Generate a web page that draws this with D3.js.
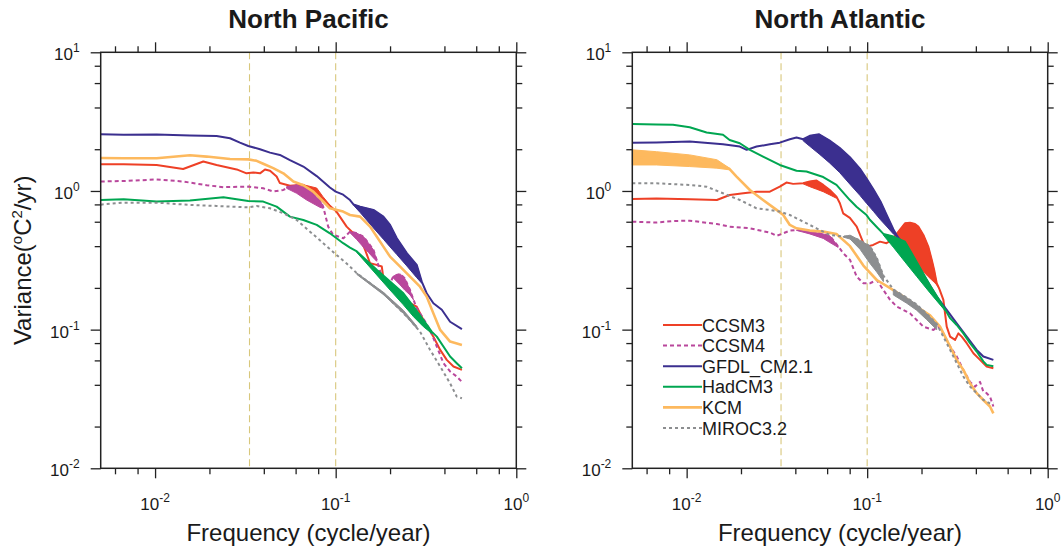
<!DOCTYPE html>
<html>
<head>
<meta charset="utf-8">
<script src="https://cdn.jsdelivr.net/npm/d3@7"></script>
<style>
body { margin: 0; background: #fff; }
text { font-family: "Liberation Sans", Arial, Helvetica, sans-serif; fill: #1a1a1a; }
</style>
</head>
<body>
<script>
// axis ticks
var freqTicks = [0.01, 0.1, 1];
var freqMinor = [0.006, 0.008, 0.02, 0.04, 0.06, 0.08, 0.2, 0.4, 0.6, 0.8];
var varTicks = [0.01, 0.1, 1, 10];
var varMinor = [0.02, 0.04, 0.06, 0.08, 0.2, 0.4, 0.6, 0.8, 2, 4, 6, 8];
var refFreqs = [1 / 30, 1 / 10];

var models = ["CCSM3", "CCSM4", "GFDL_CM2.1", "HadCM3", "KCM", "MIROC3.2"];

// North Pacific spectra [frequency, variance]
var npCCSM3 = [[0.005,1.56],[0.0067,1.56],[0.0102,1.54],[0.0143,1.44],[0.0185,1.63],[0.0219,1.54],[0.0283,1.43],[0.0321,1.34],[0.035,1.36],[0.0381,1.34],[0.0406,1.43],[0.0433,1.40],[0.0471,1.27],[0.0491,1.14],[0.0558,1.09],[0.066,1.11],[0.0721,1.02],[0.0853,0.86],[0.101,0.71],[0.115,0.553],[0.1254,0.496],[0.1365,0.456],[0.1455,0.376],[0.155,0.301],[0.1687,0.293],[0.180,0.285],[0.1837,0.235],[0.200,0.216],[0.218,0.193],[0.237,0.173],[0.258,0.155],[0.281,0.1466],[0.306,0.1174],[0.3475,0.089],[0.379,0.0714],[0.412,0.0605],[0.449,0.0542],[0.5,0.0513]];
var npCCSM4 = [[0.005,1.17],[0.0067,1.18],[0.0102,1.21],[0.0143,1.17],[0.0193,1.10],[0.0239,1.065],[0.0328,1.075],[0.0397,1.045],[0.0451,0.99],[0.0513,1.017],[0.0535,1.045],[0.0608,1.10],[0.069,1.045],[0.0818,0.861],[0.0853,0.771],[0.0871,0.69],[0.0909,0.553],[0.0969,0.482],[0.1104,0.456],[0.120,0.509],[0.131,0.496],[0.1425,0.469],[0.152,0.42],[0.1618,0.376],[0.1687,0.318],[0.180,0.241],[0.200,0.216],[0.209,0.244],[0.2274,0.252],[0.241,0.235],[0.258,0.193],[0.2697,0.164],[0.281,0.1426],[0.306,0.120],[0.3333,0.0995],[0.363,0.0755],[0.395,0.0573],[0.430,0.0499],[0.468,0.0459],[0.5,0.042]];
var npGFDL = [[0.005,2.56],[0.0067,2.54],[0.0102,2.55],[0.0156,2.51],[0.0219,2.49],[0.026,2.40],[0.0295,2.23],[0.0328,2.11],[0.0381,2.00],[0.0433,1.89],[0.0491,1.82],[0.0558,1.67],[0.0662,1.50],[0.0785,1.28],[0.0929,1.06],[0.1,0.99],[0.110,0.94],[0.120,0.86],[0.1254,0.80],[0.1365,0.771],[0.1618,0.73],[0.1837,0.653],[0.200,0.569],[0.218,0.456],[0.2476,0.356],[0.281,0.293],[0.2996,0.222],[0.319,0.183],[0.3475,0.155],[0.387,0.139],[0.430,0.114],[0.5,0.101]];
var npHadCM3 = [[0.005,0.861],[0.0067,0.871],[0.0102,0.838],[0.0156,0.852],[0.0239,0.90],[0.0328,0.848],[0.0397,0.838],[0.0471,0.771],[0.0558,0.653],[0.0662,0.618],[0.0785,0.569],[0.0929,0.495],[0.110,0.42],[0.120,0.39],[0.131,0.366],[0.1687,0.270],[0.200,0.222],[0.237,0.183],[0.2697,0.1466],[0.306,0.1174],[0.340,0.0968],[0.363,0.089],[0.430,0.064],[0.468,0.0573],[0.5,0.0527]];
var npKCM = [[0.005,1.73],[0.0067,1.72],[0.0102,1.72],[0.0156,1.81],[0.0193,1.77],[0.026,1.70],[0.0328,1.69],[0.0365,1.65],[0.0397,1.57],[0.0451,1.46],[0.0513,1.34],[0.0583,1.17],[0.0662,1.10],[0.0752,0.99],[0.0853,0.84],[0.0929,0.75],[0.110,0.71],[0.120,0.671],[0.1365,0.653],[0.155,0.553],[0.1687,0.469],[0.1837,0.397],[0.200,0.336],[0.2274,0.285],[0.258,0.241],[0.293,0.204],[0.319,0.173],[0.3475,0.131],[0.379,0.0995],[0.430,0.082],[0.5,0.0776]];
var npMIROC = [[0.005,0.797],[0.0067,0.824],[0.0102,0.824],[0.0156,0.793],[0.0219,0.78],[0.026,0.771],[0.0328,0.762],[0.0365,0.78],[0.0433,0.75],[0.0513,0.69],[0.0608,0.618],[0.0721,0.509],[0.0853,0.42],[0.101,0.346],[0.115,0.30],[0.131,0.255],[0.155,0.216],[0.1837,0.183],[0.218,0.1466],[0.258,0.1174],[0.293,0.0968],[0.3333,0.0714],[0.379,0.0542],[0.430,0.041],[0.468,0.0329],[0.5,0.032]];

// North Pacific shaded ranges [frequency, low, high]
var npCCSM3Band = [[0.066,1.08,1.11],[0.0785,0.96,1.05],[0.085,0.85,0.91],[0.093,0.77,0.79]];
var npCCSM4Band1 = [[0.0535,1.045,1.075],[0.0608,0.962,1.10],[0.069,0.861,1.045],[0.0818,0.762,0.861],[0.0853,0.75,0.771]];
var npCCSM4Band2 = [[0.120,0.50,0.509],[0.131,0.445,0.496],[0.1425,0.393,0.469],[0.152,0.360,0.42],[0.1618,0.329,0.376],[0.1687,0.311,0.318]];
var npCCSM4Band3 = [[0.209,0.235,0.244],[0.2274,0.210,0.252],[0.241,0.193,0.235],[0.258,0.178,0.193],[0.2697,0.164,0.164]];
var npGFDLBand = [[0.1254,0.79,0.80],[0.1365,0.70,0.771],[0.1618,0.541,0.73],[0.1837,0.449,0.653],[0.200,0.395,0.569],[0.218,0.348,0.456],[0.2476,0.288,0.356],[0.281,0.237,0.293],[0.2996,0.216,0.222]];
var npHadCM3Band = [[0.131,0.36,0.366],[0.1687,0.248,0.270],[0.200,0.193,0.222],[0.237,0.151,0.183],[0.2697,0.124,0.1466],[0.306,0.105,0.1174],[0.340,0.094,0.0968]];
var npMIROCBand = [[0.131,0.25,0.256],[0.1837,0.179,0.186],[0.237,0.131,0.138],[0.281,0.102,0.106]];

// North Atlantic spectra
var naCCSM3 = [[0.005,0.876],[0.0068,0.881],[0.0104,0.871],[0.0147,0.861],[0.0173,0.936],[0.0206,0.962],[0.0244,0.988],[0.0289,0.988],[0.0328,1.074],[0.0357,1.15],[0.0389,1.125],[0.0442,1.136],[0.0481,1.17],[0.0524,1.19],[0.0571,1.105],[0.0621,1.016],[0.0676,0.91],[0.0706,0.815],[0.0736,0.69],[0.0802,0.64],[0.0875,0.553],[0.0953,0.42],[0.0994,0.397],[0.108,0.408],[0.1178,0.431],[0.128,0.42],[0.1368,0.443],[0.149,0.509],[0.162,0.585],[0.1728,0.59],[0.184,0.578],[0.192,0.553],[0.2048,0.482],[0.218,0.397],[0.228,0.318],[0.235,0.269],[0.2428,0.216],[0.251,0.197],[0.2643,0.164],[0.2758,0.105],[0.288,0.089],[0.307,0.0843],[0.32,0.094],[0.334,0.089],[0.3559,0.0798],[0.3875,0.0676],[0.4218,0.0605],[0.459,0.0541],[0.5,0.0527]];
var naCCSM4 = [[0.005,0.601],[0.0068,0.592],[0.0084,0.607],[0.0104,0.611],[0.0147,0.578],[0.0173,0.553],[0.0224,0.538],[0.0289,0.501],[0.0315,0.475],[0.0343,0.495],[0.0373,0.518],[0.0406,0.523],[0.0481,0.51],[0.0571,0.49],[0.0621,0.475],[0.069,0.40],[0.0736,0.356],[0.0804,0.318],[0.0875,0.241],[0.0953,0.216],[0.1037,0.216],[0.113,0.228],[0.123,0.193],[0.134,0.164],[0.1458,0.1466],[0.1587,0.1387],[0.1728,0.131],[0.188,0.1174],[0.2048,0.105],[0.2327,0.0995],[0.248,0.105],[0.2643,0.094],[0.288,0.0755],[0.3133,0.064],[0.3411,0.0512],[0.3713,0.042],[0.395,0.0388],[0.4218,0.042],[0.44,0.0357],[0.459,0.0348],[0.479,0.0329],[0.5,0.0279]];
var naGFDL = [[0.005,2.23],[0.0068,2.24],[0.0104,2.27],[0.0159,2.17],[0.0197,2.09],[0.0215,1.98],[0.0244,2.09],[0.0289,2.17],[0.0328,2.23],[0.0373,2.36],[0.0406,2.43],[0.0442,2.36],[0.0481,2.50],[0.0542,2.56],[0.0617,2.32],[0.0703,2.05],[0.0802,1.75],[0.0911,1.45],[0.0996,1.22],[0.1086,1.02],[0.1185,0.84],[0.129,0.66],[0.1396,0.53],[0.147,0.47],[0.1728,0.36],[0.2048,0.25],[0.2428,0.173],[0.2758,0.1387],[0.3133,0.111],[0.3559,0.089],[0.4043,0.0714],[0.44,0.064],[0.5,0.0605]];
var naHadCM3 = [[0.005,3.04],[0.0068,3.01],[0.0084,3.00],[0.0104,2.88],[0.0129,2.64],[0.0159,2.54],[0.0173,2.33],[0.0197,2.21],[0.0224,1.98],[0.0265,1.77],[0.0328,1.54],[0.0406,1.40],[0.0461,1.38],[0.0571,1.26],[0.0676,1.105],[0.0802,0.86],[0.0873,0.77],[0.0992,0.67],[0.1035,0.62],[0.113,0.55],[0.123,0.49],[0.1396,0.469],[0.162,0.431],[0.188,0.308],[0.223,0.208],[0.27,0.14],[0.288,0.121],[0.3133,0.108],[0.3411,0.094],[0.3713,0.08],[0.4043,0.0695],[0.44,0.059],[0.459,0.0557],[0.5,0.0545]];
var naKCM = [[0.005,1.75],[0.0068,1.72],[0.0104,1.66],[0.0147,1.57],[0.0173,1.44],[0.0189,1.27],[0.0224,1.016],[0.0265,0.861],[0.0315,0.73],[0.0343,0.671],[0.0373,0.569],[0.0406,0.538],[0.0481,0.518],[0.0571,0.509],[0.0676,0.49],[0.0804,0.40],[0.0953,0.29],[0.113,0.228],[0.134,0.199],[0.1587,0.173],[0.188,0.1466],[0.223,0.127],[0.2533,0.105],[0.288,0.0755],[0.3133,0.0605],[0.3411,0.0512],[0.3713,0.041],[0.4043,0.0348],[0.44,0.0311],[0.479,0.0279],[0.5,0.0249]];
var naMIROC = [[0.005,1.136],[0.0068,1.136],[0.0104,1.105],[0.0129,1.074],[0.0159,0.962],[0.0197,0.861],[0.0244,0.75],[0.0289,0.73],[0.0328,0.71],[0.0373,0.671],[0.0442,0.601],[0.0524,0.538],[0.0571,0.509],[0.0621,0.482],[0.0736,0.469],[0.0804,0.47],[0.0913,0.44],[0.1037,0.40],[0.113,0.33],[0.123,0.245],[0.1396,0.195],[0.1656,0.17],[0.188,0.152],[0.2137,0.13],[0.2428,0.11],[0.2643,0.089],[0.288,0.0714],[0.3133,0.0573],[0.3411,0.0459],[0.3713,0.0388],[0.4043,0.0348],[0.44,0.0311],[0.479,0.0294],[0.5,0.0294]];

// North Atlantic shaded ranges
var naCCSM3Band1 = [[0.0442,1.125,1.136],[0.0481,1.074,1.17],[0.0524,1.03,1.19],[0.0571,0.988,1.105],[0.0621,0.936,1.016],[0.0676,0.886,0.91]];
var naCCSM3Band2 = [[0.1368,0.443,0.443],[0.149,0.397,0.509],[0.162,0.356,0.585],[0.1728,0.326,0.59],[0.184,0.301,0.578],[0.192,0.285,0.553],[0.2048,0.262,0.482],[0.218,0.241,0.397],[0.228,0.228,0.318],[0.235,0.22,0.269],[0.2428,0.21,0.216],[0.251,0.197,0.197]];
var naCCSM4Band = [[0.0406,0.52,0.523],[0.0481,0.49,0.51],[0.0571,0.455,0.49],[0.0621,0.425,0.475],[0.069,0.392,0.40]];
var naGFDLBand = [[0.0442,2.30,2.36],[0.0481,2.10,2.50],[0.0542,1.85,2.56],[0.0617,1.60,2.32],[0.0703,1.36,2.05],[0.0802,1.12,1.75],[0.0911,0.93,1.45],[0.0996,0.81,1.22],[0.1086,0.71,1.02],[0.1185,0.62,0.84],[0.129,0.55,0.66],[0.1396,0.49,0.53],[0.147,0.465,0.47]];
var naHadCM3Band = [[0.123,0.48,0.49],[0.1396,0.393,0.469],[0.162,0.308,0.431],[0.188,0.242,0.308],[0.223,0.184,0.208],[0.27,0.137,0.14]];
var naKCMBand = [[0.005,1.54,1.98],[0.0068,1.54,1.92],[0.0104,1.50,1.82],[0.0147,1.46,1.68],[0.0173,1.42,1.46]];
var naMIROCBand1 = [[0.0736,0.465,0.469],[0.0804,0.45,0.48],[0.0913,0.38,0.44],[0.1037,0.30,0.40],[0.113,0.26,0.33],[0.123,0.222,0.245]];
var naMIROCBand2 = [[0.1396,0.178,0.195],[0.1656,0.155,0.17],[0.188,0.138,0.152],[0.2137,0.118,0.13],[0.2428,0.1,0.11]];

//Width and height
var w = 1063;
var h = 550;
var top0 = 52.3, bottom0 = 468.3;

var color = {"CCSM3": "#ee4026", "CCSM4": "#b9479c", "GFDL_CM2.1": "#3b2f8f",
             "HadCM3": "#00a651", "KCM": "#fdb95e", "MIROC3.2": "#8c8e90"};
var dash = {"CCSM4": "4,3", "MIROC3.2": "3,3"};
var lw = {"KCM": 2.6};

var panels = [
  {title: "North Pacific", x0: 100.7, x1: 516.3, legend: false,
   lines: [npCCSM3, npCCSM4, npGFDL, npHadCM3, npKCM, npMIROC],
   bands: [[npCCSM3Band], [npCCSM4Band1, npCCSM4Band2, npCCSM4Band3], [npGFDLBand], [npHadCM3Band], [], [npMIROCBand]]},
  {title: "North Atlantic", x0: 632.3, x1: 1047.7, legend: true,
   lines: [naCCSM3, naCCSM4, naGFDL, naHadCM3, naKCM, naMIROC],
   bands: [[naCCSM3Band1, naCCSM3Band2], [naCCSM4Band], [naGFDLBand], [naHadCM3Band], [naKCMBand], [naMIROCBand1, naMIROCBand2]]}
];

var svg = d3.select("body")
    .append("svg")
    .attr("width", w)
    .attr("height", h);

var yScale = d3.scaleLog().domain([0.01, 10]).range([bottom0, top0]);

function exponent(d) { return String(Math.round(Math.log10(d))); }

function supLabel(sel) {
  sel.append("tspan").text("10");
  sel.append("tspan").attr("font-size", 12).attr("dy", -8).text(exponent);
}

panels.forEach(function(p, pi) {
  var xScale = d3.scaleLog().domain([0.005, 1]).range([p.x0, p.x1]);
  var g = svg.append("g");

  // reference periods (30 and 10 years)
  g.selectAll("line.ref").data(refFreqs).enter().append("line")
      .attr("x1", d => xScale(d)).attr("x2", d => xScale(d))
      .attr("y1", top0).attr("y2", bottom0)
      .attr("stroke", "#d8c77c").attr("stroke-width", 1.1)
      .attr("stroke-dasharray", "7,4");

  var line = d3.line().x(d => xScale(d[0])).y(d => yScale(d[1]));
  var area = d3.area().x(d => xScale(d[0])).y0(d => yScale(d[1])).y1(d => yScale(d[2]));

  models.forEach(function(m, i) {
    p.bands[i].forEach(function(b) {
      g.append("path").datum(b).attr("d", area)
          .attr("fill", color[m]).attr("stroke", color[m]).attr("stroke-width", 1);
    });
    g.append("path").datum(p.lines[i]).attr("d", line)
        .attr("fill", "none").attr("stroke", color[m])
        .attr("stroke-width", lw[m] || 2)
        .attr("stroke-linejoin", "round")
        .attr("stroke-dasharray", dash[m] || null);
  });

  // frame
  g.append("rect").attr("x", p.x0).attr("y", top0)
      .attr("width", p.x1 - p.x0).attr("height", bottom0 - top0)
      .attr("fill", "none").attr("stroke", "#222").attr("stroke-width", 1.5);

  // ticks on all four sides, outward
  var axes = [
    [d3.axisBottom, xScale, "translate(0," + bottom0 + ")", freqTicks, freqMinor],
    [d3.axisTop, xScale, "translate(0," + top0 + ")", freqTicks, freqMinor],
    [d3.axisLeft, yScale, "translate(" + p.x0 + ",0)", varTicks, varMinor],
    [d3.axisRight, yScale, "translate(" + p.x1 + ",0)", varTicks, varMinor]
  ];
  axes.forEach(function(a) {
    [[a[3], 10], [a[4], 6]].forEach(function(t) {
      g.append("g").attr("transform", a[2]).attr("color", "#222")
          .call(a[0](a[1]).tickValues(t[0]).tickSize(t[1]).tickFormat(""))
          .call(s => s.select(".domain").remove())
          .selectAll("line").attr("stroke-width", 1.3);
    });
  });

  // tick labels
  g.selectAll("text.xl").data(freqTicks).enter().append("text")
      .attr("class", "xl")
      .attr("x", d => xScale(d)).attr("y", bottom0 + 42)
      .attr("text-anchor", "middle").attr("font-size", 17)
      .call(supLabel);
  g.selectAll("text.yl").data(varTicks).enter().append("text")
      .attr("class", "yl")
      .attr("x", p.x0 - 21).attr("y", d => yScale(d) + 8)
      .attr("text-anchor", "end").attr("font-size", 17)
      .call(supLabel);

  // titles
  var cx = (p.x0 + p.x1) / 2;
  g.append("text").attr("x", cx).attr("y", 28)
      .attr("text-anchor", "middle").attr("font-size", 26).attr("font-weight", "bold")
      .text(p.title);
  g.append("text").attr("x", cx).attr("y", 541)
      .attr("text-anchor", "middle").attr("font-size", 24)
      .text("Frequency (cycle/year)");

  if (pi === 0) {
    var yl = g.append("text")
        .attr("transform", "translate(31," + (top0 + bottom0) / 2 + ") rotate(-90)")
        .attr("text-anchor", "middle").attr("font-size", 24);
    yl.append("tspan").text("Variance(");
    yl.append("tspan").attr("font-size", 15).attr("dy", -9).text("o");
    yl.append("tspan").attr("dy", 9).text("C");
    yl.append("tspan").attr("font-size", 15).attr("dy", -9).text("2");
    yl.append("tspan").attr("dy", 9).text("/yr)");
  }

  if (p.legend) {
    var leg = g.append("g");
    models.forEach(function(m, i) {
      var yy = 325 + i * 20.6;
      leg.append("line").attr("x1", 663).attr("x2", 702)
          .attr("y1", yy).attr("y2", yy)
          .attr("stroke", color[m]).attr("stroke-width", lw[m] || 2)
          .attr("stroke-dasharray", dash[m] || null);
      leg.append("text").attr("x", 702).attr("y", yy + 6.5)
          .attr("font-size", 18).text(m);
    });
  }
});
</script>
</body>
</html>
